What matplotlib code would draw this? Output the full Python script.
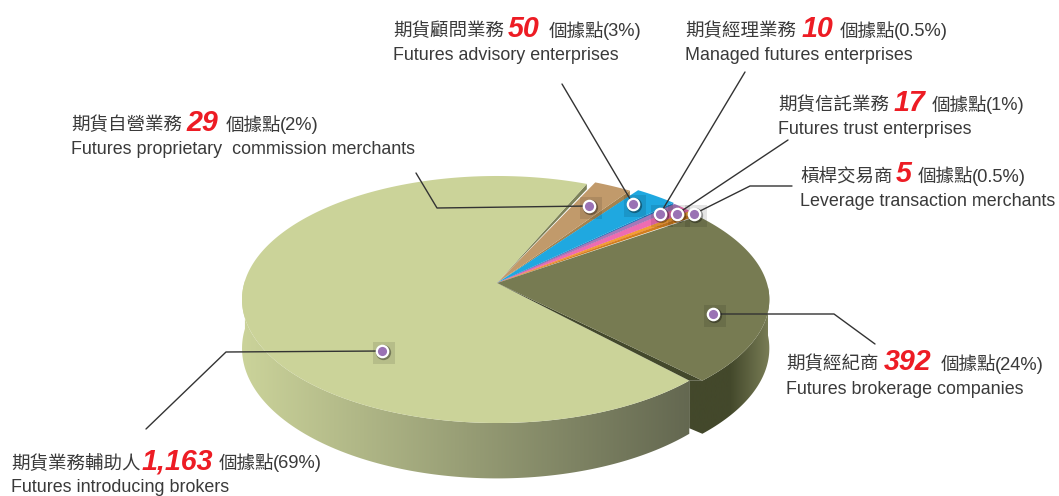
import numpy as np
import matplotlib
matplotlib.use("Agg")
import matplotlib.pyplot as plt
from matplotlib.patches import Polygon, Rectangle
from matplotlib.colors import LinearSegmentedColormap

# ---- data ----
names_zh = ["期貨業務輔助人", "期貨自營業務", "期貨顧問業務", "期貨經理業務", "期貨信託業務", "槓桿交易商", "期貨經紀商"]
names_en = ["Futures introducing brokers", "Futures proprietary  commission merchants",
            "Futures advisory enterprises", "Managed futures enterprises",
            "Futures trust enterprises", "Leverage transaction merchants",
            "Futures brokerage companies"]
count_labels = ["1,163", "29", "50", "10", "17", "5", "392"]
shares = ["69%", "2%", "3%", "0.5%", "1%", "0.5%", "24%"]
# size of each slice as it is drawn in the picture (the picture is not quite to scale), in %
drawn_pct = [69.3, 2.67, 2.92, 0.56, 0.84, 0.39, 23.32]

# ---- style ----
slice_colors = ["#cbd399", "#c19a6b", "#1fa8e0", "#a678b8", "#ee6cb1", "#f5a030", "#777b52"]
edge_colors = ["#7d825a", "#a5834f", "#1a7cbf", "#7d5aa0", "#c9509a", "#d27e1e", "#43482b"]
slice_radius = [1.0, 1.03, 1.055, 1.05, 1.05, 1.05, 1.0]
gaps_deg = [1.6, 1.5, 0.6, 0.0, 0.0, 0.0, 0.0]
CJK = "Noto Sans CJK TC"
LAT = "Liberation Sans"
TEXT = "#3a3a3a"
W, H = 1059, 496
CX, CY, P, R, S, DEPTH = 497, 283, 0.1336, 252.7, 121.3, 48
START = 136.6  # clockwise from 12 o'clock, where the first slice begins
SX_DARK = 1.068

# (text x, first-line baseline y, number x, unit x, dot x, dot y, leader points)
layout = [
    (11, 468, 142, 219, 382, 351, [(226, 352), (146, 429)]),
    (71, 130, 186, 226, 589, 206, [(437, 208), (416, 173)]),
    (393, 36, 508, 549, 633, 204, [(562, 84)]),
    (685, 36, 802, 840, 660, 214, [(745, 72)]),
    (778, 110, 894, 932, 677, 214, [(788, 140)]),
    (800, 181, 896, 918, 694, 214, [(750, 186), (792, 186)]),
    (786, 369, 884, 941, 713, 314, [(834, 314), (875, 344)]),
]


def project(theta_deg, depth=0.0, sx=1.0, rad=1.0):
    t = np.radians(theta_deg)
    u, v = np.sin(t) * rad, -np.cos(t) * rad
    w = 1 - P * v
    return CX + R * sx * u / w, CY + (S * v + depth) / w


def arc(a0, a1, **kw):
    a = np.linspace(a0, a1, max(int(abs(a1 - a0) * 2), 2))
    x, y = project(a, **kw)
    return np.column_stack([x, y])


fig = plt.figure(figsize=(W / 100, H / 100), dpi=100)
ax = fig.add_axes([0, 0, 1, 1])
ax.set_xlim(0, W)
ax.set_ylim(H, 0)
ax.axis("off")

scale = (360 - sum(gaps_deg)) / sum(drawn_pct)
spans = [p * scale for p in drawn_pct]
starts, ends = [], []
a = START
for sp, g in zip(spans, gaps_deg):
    starts.append(a)
    ends.append(a + sp)
    a += sp + g
apex = (CX, CY)


def gradient_wall(poly, x0, x1, colors, z):
    cmap = LinearSegmentedColormap.from_list("w", colors)
    g = np.linspace(0, 1, 256).reshape(1, -1)
    im = ax.imshow(g, cmap=cmap, extent=[x0, x1, H, 0], aspect="auto", zorder=z)
    p = Polygon(poly, closed=True, transform=ax.transData, fc="none", ec="none")
    ax.add_patch(p)
    im.set_clip_path(p)


# outer walls
a0, a1 = starts[0], 271.0
wall = np.vstack([arc(a0, a1), arc(a1, a0, depth=DEPTH)])
gradient_wall(wall, 242, 693, ["#cbd39a", "#636750"], 2)

d_end = ends[-1]
dark_a = (d_end - 360) if d_end > 360 else d_end
lx, ly = project(starts[0])
lxb, lyb = project(starts[0], depth=DEPTH - 5)
dwall = np.vstack([[(lx, ly)], arc(dark_a, 92.0, sx=SX_DARK), arc(92.0, dark_a, sx=SX_DARK, depth=DEPTH),
                   [(lxb, lyb)]])
gradient_wall(dwall, lx, 771, ["#43482b", "#43482b", "#7b7f57"], 3)

# slice faces with their small inner walls
n = len(drawn_pct)
z = 4
for i in range(n):
    sx = SX_DARK if i == n - 1 else 1.0
    rad = slice_radius[i]
    if i < n - 1:
        ex, ey = project(ends[i], sx=sx, rad=rad)
        ex2, ey2 = project(ends[i], sx=sx, rad=rad, depth=6 if i < 3 else 4)
        ax.add_patch(Polygon([apex, (ex, ey), (ex2, ey2)], closed=True,
                             fc=edge_colors[i], ec="none", zorder=z))
    else:
        ex, ey = project(dark_a, sx=sx)
        ax.add_patch(Polygon([apex, (lx, ly), (ex, ey)], closed=True, fc=edge_colors[i], ec="none", zorder=z))
    z += 0.1
    pts = np.vstack([[apex], arc(starts[i], ends[i], sx=sx, rad=rad)])
    ax.add_patch(Polygon(pts, closed=True, fc=slice_colors[i], ec="none", zorder=z))
    z += 0.1

# callouts and labels
for i, (tx, ty, nx, ux, dx, dy, leader) in enumerate(layout):
    xs = [dx] + [p[0] for p in leader]
    ys = [dy] + [p[1] for p in leader]
    ax.plot(xs, ys, color="#333333", lw=1.0, zorder=8, solid_capstyle="round")
    ax.add_patch(Rectangle((dx - 9, dy - 9.5), 22, 22, fc="#000000", alpha=0.10, ec="none", zorder=7))
    ax.plot([dx + 1.2], [dy + 1.2], "o", ms=11, mfc="#000000", mec="none", alpha=0.35, zorder=8.5)
    ax.plot([dx], [dy], "o", ms=8.2, mfc="#9a72b4", mec="white", mew=1.6, zorder=9)
    ax.text(tx, ty + 0.5, names_zh[i], family=CJK, fontsize=13.3, color=TEXT, va="baseline", ha="left", zorder=10)
    ax.text(nx, ty + 1, count_labels[i], family=LAT, fontsize=20.6, color="#ed1c24",
            fontweight="bold", fontstyle="italic", va="baseline", ha="left", zorder=10)
    ax.text(ux, ty + 0.5, "個據點", family=CJK, fontsize=13.3, color=TEXT, va="baseline", ha="left", zorder=10)
    ax.text(ux + 54, ty + 0.5, f"({shares[i]})", family=LAT, fontsize=13.2, color=TEXT, va="baseline", ha="left", zorder=10)
    ax.text(tx, ty + 24.5, names_en[i], family=LAT, fontsize=12.85, color=TEXT, va="baseline", ha="left", zorder=10)

fig.savefig("out.png", dpi=100)
